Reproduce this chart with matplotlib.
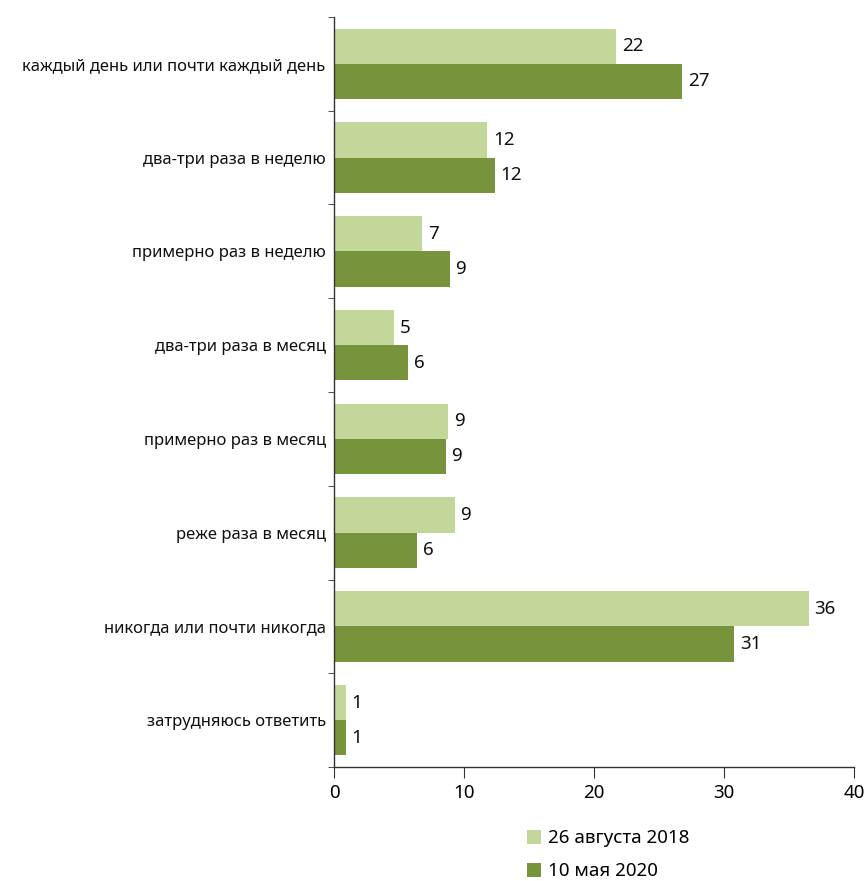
import matplotlib
matplotlib.use("Agg")
import matplotlib.pyplot as plt
import numpy as np
from matplotlib.patches import Patch

categories = [
    "каждый день или почти каждый день",
    "два-три раза в неделю",
    "примерно раз в неделю",
    "два-три раза в месяц",
    "примерно раз в месяц",
    "реже раза в месяц",
    "никогда или почти никогда",
    "затрудняюсь ответить",
]
series_names = ["26 августа 2018", "10 мая 2020"]
values_2018 = [21.7, 11.8, 6.8, 4.6, 8.8, 9.3, 36.5, 0.9]
values_2020 = [26.8, 12.4, 8.9, 5.7, 8.6, 6.4, 30.8, 0.9]
labels_2018 = [22, 12, 7, 5, 9, 9, 36, 1]
labels_2020 = [27, 12, 9, 6, 9, 6, 31, 1]
xticks = [0, 10, 20, 30, 40]

plt.rcParams['font.family'] = ['Noto Sans', 'DejaVu Sans']

light = "#c4d79b"
dark = "#77933c"

fig = plt.figure(figsize=(8.66, 8.81), dpi=100)
ax = fig.add_axes([334/866, 1-767/881, (854-334)/866, (767-17)/881])

n = len(categories)
y = np.arange(n)
h = 0.375
b1 = ax.barh(y - h/2, values_2018, height=h, color=light, label=series_names[0])
b2 = ax.barh(y + h/2, values_2020, height=h, color=dark, label=series_names[1])

for bars, labs in ((b1, labels_2018), (b2, labels_2020)):
    for rect, lab in zip(bars, labs):
        ax.annotate(str(lab), (rect.get_width(), rect.get_y() + rect.get_height()/2),
                    xytext=(4, 0), textcoords="offset points",
                    va="center", ha="left", fontsize=13.5, color="#111111")

ax.set_ylim(n - 0.5, -0.5)
ax.set_xlim(0, 40)
ax.set_xticks(xticks)
ax.set_xticklabels([str(t) for t in xticks], fontsize=13.5)
ax.set_yticks(y)
ax.set_yticklabels(categories, fontsize=12, color="#111111")
ax.set_yticks(np.arange(-0.5, n, 1), minor=True)
ax.tick_params(axis='y', which='major', length=0, pad=6)
ax.tick_params(axis='y', which='minor', length=4, direction='out', color='#333333')
ax.tick_params(axis='x', length=8, direction='out', color='#333333', pad=4)
for s in ("top", "right"):
    ax.spines[s].set_visible(False)
for s in ("left", "bottom"):
    ax.spines[s].set_color('#333333')
    ax.spines[s].set_linewidth(1.0)

handles = [Patch(facecolor=light), Patch(facecolor=dark)]
fig.legend(handles, series_names, loc='upper left',
           bbox_to_anchor=(518/866, 1-820/881), frameon=False,
           fontsize=13.5, handlelength=0.75, handleheight=0.75,
           handletextpad=0.35, labelspacing=0.8, borderpad=0)

fig.savefig("out.png", dpi=100, facecolor="white")
